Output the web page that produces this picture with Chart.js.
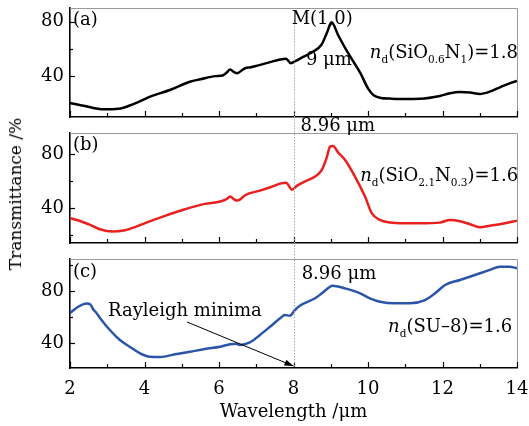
<!DOCTYPE html>
<html>
<head>
<meta charset="utf-8">
<script src="https://cdn.jsdelivr.net/npm/chart.js@4/dist/chart.umd.min.js"></script>
<style>
  html, body { margin: 0; padding: 0; background: #fff; }
  #wrap { position: relative; width: 529px; height: 426px; overflow: hidden; background: #fff; }
  #wrap canvas { position: absolute; left: 0; }
  #ytitle {
    position: absolute; left: 15px; top: 194px;
    transform: translate(-50%, -50%) rotate(-90deg);
    font: 17px "DejaVu Serif"; color: #000; white-space: nowrap;
  }
</style>
</head>
<body>
<div id="wrap">
  <canvas id="panelA" width="529" height="125" style="top:0px"></canvas>
  <canvas id="panelB" width="529" height="141" style="top:110px"></canvas>
  <canvas id="panelC" width="529" height="186" style="top:240px"></canvas>
  <div id="ytitle">Transmittance /%</div>
</div>
<script>
// Wavelength tick values (µm) and transmittance tick values (%)
const xTicks = [2, 3, 4, 5, 6, 7, 8, 9, 10, 11, 12, 13, 14];
const yTicks = [20, 40, 60, 80, 100];
const yLabelled = [40, 80];

// (a) SiO0.6N1
const wlA = [2.0, 2.4, 2.9, 3.3, 3.7, 4.15, 4.68, 5.22, 5.5, 5.9, 6.1, 6.2, 6.3, 6.4, 6.5, 6.6, 6.7, 6.85, 7.0, 7.37, 7.64, 7.8, 7.93, 8.05, 8.2, 8.5, 8.75, 8.9, 9.02, 9.2, 9.4, 9.6, 9.8, 10.0, 10.15, 10.35, 10.6, 10.9, 11.4, 11.93, 12.2, 12.47, 12.74, 13.0, 13.27, 13.54, 13.8, 14.0];
const trA = [20.3, 18, 15.6, 16, 19.5, 24.9, 29.8, 35.9, 37.7, 40, 40.5, 42.5, 44.8, 43, 42.2, 44, 45.8, 46.5, 47.5, 50.3, 52.2, 52.8, 49.5, 51, 53.2, 57.5, 63, 72, 79.5, 70, 60, 51, 42, 31, 26, 24, 23.5, 23.2, 23.4, 25.4, 27.4, 28.3, 28, 26.9, 28.6, 31.8, 34.7, 36.4];

// (b) SiO2.1N0.3
const wlB = [2.0, 2.25, 2.54, 2.8, 3.13, 3.48, 3.75, 4.0, 4.55, 5.09, 5.62, 6.03, 6.2, 6.3, 6.4, 6.48, 6.58, 6.7, 7.1, 7.4, 7.64, 7.8, 7.96, 8.1, 8.3, 8.58, 8.76, 8.9, 8.98, 9.06, 9.2, 9.38, 9.65, 9.92, 10.1, 10.32, 10.6, 10.86, 11.4, 11.93, 12.2, 12.47, 12.74, 13.0, 13.27, 13.68, 14.0];
const trB = [32.4, 30.5, 27.4, 24.2, 22.5, 23.5, 25.8, 28.6, 34.1, 39, 43, 44.7, 46.5, 48.4, 46.5, 45.4, 46.5, 49.4, 52.8, 55.5, 58, 58.7, 53.5, 56.5, 59.5, 63.2, 68.1, 78, 85.4, 85.9, 81, 75.6, 63.2, 48.4, 36.1, 31.1, 29.2, 28.6, 28.6, 29.1, 31.1, 30.1, 27.9, 25.7, 26.7, 28.6, 30.6];

// (c) SU-8
const wlC = [2.0, 2.2, 2.45, 2.55, 2.62, 2.7, 2.8, 3.07, 3.34, 3.6, 3.88, 4.15, 4.42, 4.82, 5.22, 5.62, 6.03, 6.3, 6.45, 6.56, 6.83, 7.1, 7.37, 7.64, 7.77, 7.9, 8.04, 8.17, 8.58, 8.76, 8.98, 9.05, 9.38, 9.79, 10.05, 10.32, 10.72, 11.13, 11.53, 11.8, 12.07, 12.47, 12.87, 13.27, 13.54, 13.8, 14.0];
const trC = [63, 67.5, 70.3, 69.5, 66, 63.5, 59.5, 50, 42.3, 37.2, 32.1, 29.5, 29.3, 31.3, 33.3, 35.4, 37.2, 39, 39.5, 38.5, 40.5, 46.2, 52.5, 59, 61.5, 61, 65.4, 68.7, 74.4, 78.2, 83.3, 84.1, 82, 78.2, 74.4, 71.8, 70.5, 70.5, 73, 78.2, 84.6, 88.5, 92.3, 96.2, 98.7, 98.7, 97.5];

const FONT = '"DejaVu Serif", "Liberation Serif", serif';
const FS = 18;

// rich text: [text, style] with style '' (plain), 'i' (italic), 's' (subscript)
function partFont(style) {
  if (style === 's') return '10.5px ' + FONT;
  if (style === 'i') return 'italic ' + FS + 'px ' + FONT;
  return FS + 'px ' + FONT;
}
function drawRich(ctx, x, y, parts, align) {
  let w = 0;
  parts.forEach(p => { ctx.font = partFont(p[1]); w += ctx.measureText(p[0]).width; });
  let cx = align === 'center' ? x - w / 2 : x;
  ctx.textAlign = 'left';
  ctx.textBaseline = 'middle';
  ctx.fillStyle = '#000';
  parts.forEach(p => {
    ctx.font = partFont(p[1]);
    ctx.fillText(p[0], cx, y + (p[1] === 's' ? 7 : 0));
    cx += ctx.measureText(p[0]).width;
  });
}

// frame, inward ticks, dotted marker at 8 µm, annotations
const panelDecor = {
  id: 'panelDecor',
  afterDraw(chart) {
    const { ctx, chartArea: ca, scales: { x, y } } = chart;
    const cfg = chart.options.plugins.panelDecor;
    ctx.save();
    // top & right frame edges
    ctx.strokeStyle = '#9a9a9a';
    ctx.lineWidth = 1;
    ctx.beginPath();
    ctx.moveTo(ca.left, ca.top + 0.5);
    ctx.lineTo(ca.right + 0.5, ca.top + 0.5);
    ctx.lineTo(ca.right + 0.5, ca.bottom);
    ctx.stroke();
    // x ticks (inward)
    ctx.strokeStyle = '#000';
    ctx.lineWidth = 1.2;
    xTicks.forEach(v => {
      const px = Math.round(x.getPixelForValue(v)) + 0.5;
      const len = v % 2 === 0 ? 6 : 4;
      ctx.beginPath();
      ctx.moveTo(px, ca.bottom);
      ctx.lineTo(px, ca.bottom - len);
      ctx.stroke();
    });
    // y ticks (inward)
    yTicks.forEach(v => {
      if (v < y.min || v > y.max) return;
      const py = Math.round(y.getPixelForValue(v)) + 0.5;
      const len = yLabelled.includes(v) ? 5 : 3;
      ctx.beginPath();
      ctx.moveTo(ca.left, py);
      ctx.lineTo(ca.left + len, py);
      ctx.stroke();
    });
    // dotted marker line at 8 µm
    const mx = Math.round(x.getPixelForValue(8)) + 0.5;
    const y0 = cfg.markTop !== undefined ? y.getPixelForValue(cfg.markTop) : ca.top - 8;
    const y1 = cfg.last ? ca.bottom : ca.bottom + 8;
    ctx.strokeStyle = '#9ea6c8';
    ctx.lineWidth = 1;
    ctx.setLineDash([1.5, 1.5]);
    ctx.beginPath();
    ctx.moveTo(mx, y0);
    ctx.lineTo(mx, y1);
    ctx.stroke();
    ctx.setLineDash([]);
    // arrow
    if (cfg.arrow) {
      const a = cfg.arrow;
      const x1 = x.getPixelForValue(a.from[0]), y1a = y.getPixelForValue(a.from[1]);
      const x2 = x.getPixelForValue(a.to[0]), y2 = y.getPixelForValue(a.to[1]);
      ctx.strokeStyle = '#000';
      ctx.fillStyle = '#000';
      ctx.lineWidth = 1;
      ctx.beginPath();
      ctx.moveTo(x1, y1a);
      ctx.lineTo(x2, y2);
      ctx.stroke();
      const ang = Math.atan2(y2 - y1a, x2 - x1);
      const L = 9, W = 3.2;
      ctx.beginPath();
      ctx.moveTo(x2, y2);
      ctx.lineTo(x2 - L * Math.cos(ang) + W * Math.sin(ang), y2 - L * Math.sin(ang) - W * Math.cos(ang));
      ctx.lineTo(x2 - L * Math.cos(ang) - W * Math.sin(ang), y2 - L * Math.sin(ang) + W * Math.cos(ang));
      ctx.closePath();
      ctx.fill();
    }
    // text labels
    (cfg.labels || []).forEach(l => {
      drawRich(ctx, x.getPixelForValue(l.at[0]), y.getPixelForValue(l.at[1]), l.parts, l.align);
    });
    ctx.restore();
  }
};

// scale label overhang is ignored so every panel keeps the same plot box
function noOverhang(s) {
  s.paddingTop = 0; s.paddingBottom = 0; s.paddingLeft = 0; s.paddingRight = 0;
}

function makePanel(id, wl, tr, color, yMin, yMax, padTop, xHeight, showX, decor) {
  const points = wl.map((w, i) => ({ x: w, y: tr[i] }));
  return new Chart(document.getElementById(id), {
    type: 'line',
    data: { datasets: [{ data: points, borderColor: color, borderWidth: 2.5, pointRadius: 0, cubicInterpolationMode: 'monotone', fill: false }] },
    options: {
      responsive: false,
      animation: false,
      devicePixelRatio: 1,
      layout: { autoPadding: false, padding: { top: padTop, right: 12, left: 0, bottom: 0 } },
      plugins: { legend: { display: false }, tooltip: { enabled: false }, panelDecor: decor },
      scales: {
        x: {
          type: 'linear', min: 2, max: 14,
          afterFit(s) { s.height = xHeight; noOverhang(s); },
          afterBuildTicks(s) { s.ticks = xTicks.map(v => ({ value: v })); },
          grid: { display: false, drawTicks: false },
          border: { color: '#000', width: 1.6 },
          ticks: {
            display: showX, autoSkip: false, maxRotation: 0,
            callback: v => (v % 2 === 0 ? String(v) : ''),
            font: { family: FONT, size: FS }, color: '#000', padding: 11
          },
          title: { display: showX, text: 'Wavelength /μm', font: { family: FONT, size: FS }, color: '#000', padding: { top: 0, bottom: 3 } }
        },
        y: {
          min: yMin, max: yMax,
          afterFit(s) { s.width = 70; noOverhang(s); },
          afterBuildTicks(s) { s.ticks = yTicks.filter(v => v >= yMin && v <= yMax).map(v => ({ value: v })); },
          grid: { display: false, drawTicks: false },
          border: { color: '#000', width: 1.6 },
          ticks: {
            callback: v => (yLabelled.includes(v) ? String(v) : ''),
            font: { family: FONT, size: FS }, color: '#000', padding: 6
          }
        }
      }
    },
    plugins: [panelDecor]
  });
}

makePanel('panelA', wlA, trA, '#000000', 10, 90, 8, 8, false, {
  markTop: 81,
  labels: [
    { at: [2.08, 81.2], parts: [['(a)', '']], align: 'left' },
    { at: [8.77, 81.8], parts: [['M(1,0)', '']], align: 'center' },
    { at: [8.95, 51.8], parts: [['9 μm', '']], align: 'center' },
    { at: [10.05, 56.8], parts: [['n', 'i'], ['d', 's'], ['(SiO', ''], ['0.6', 's'], ['N', ''], ['1', 's'], [')=1.8', '']], align: 'left' }
  ]
});

makePanel('panelB', wlB, trB, '#e8211f', 14, 95.5, 23, 8, false, {
  labels: [
    { at: [2.08, 86.7], parts: [['(b)', '']], align: 'left' },
    { at: [9.19, 100.4], parts: [['8.96 μm', '']], align: 'center' },
    { at: [9.79, 63.2], parts: [['n', 'i'], ['d', 's'], ['(SiO', ''], ['2.1', 's'], ['N', ''], ['0.3', 's'], [')=1.6', '']], align: 'left' }
  ]
});

makePanel('panelC', wlC, trC, '#2b55a8', 20.8, 104.6, 19, 58, true, {
  last: true,
  arrow: { from: [5.14, 56.2], to: [8, 22.3] },
  labels: [
    { at: [2.08, 94.6], parts: [['(c)', '']], align: 'left' },
    { at: [3.02, 64.2], parts: [['Rayleigh minima', '']], align: 'left' },
    { at: [9.22, 92.7], parts: [['8.96 μm', '']], align: 'center' },
    { at: [10.54, 51.9], parts: [['n', 'i'], ['d', 's'], ['(SU–8)=1.6', '']], align: 'left' }
  ]
});
</script>
</body>
</html>
